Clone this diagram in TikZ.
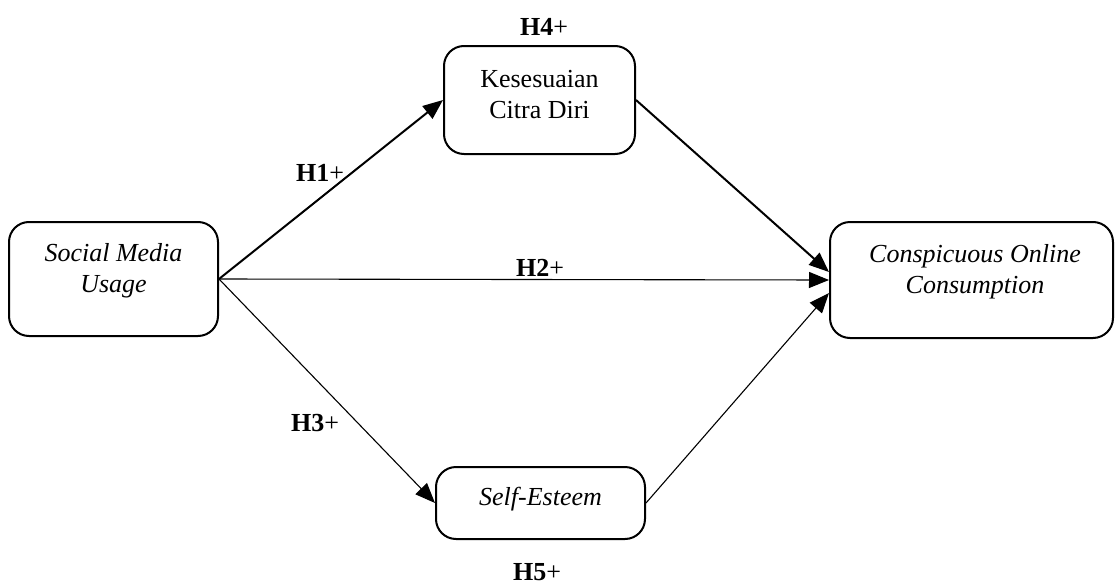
\documentclass[tikz,border=0pt]{standalone}
\usepackage{fontspec}
\setmainfont{Liberation Serif}
\usetikzlibrary{arrows.meta,calc}
\tikzset{
  boxnode/.style={draw, line width=1pt, rounded corners=10pt, inner sep=0pt},
  txt/.style={font=\fontsize{13}{15.5}\selectfont, align=center, inner sep=0pt},
  hlab/.style={font=\fontsize{13}{15.5}\selectfont, inner sep=0pt},
  thickarrow/.style={line width=1pt, -{Triangle[length=10pt,width=8pt]}},
  thinarrow/.style={line width=0.55pt, -{Triangle[length=10pt,width=8pt]}}
}
\begin{document}
\begin{tikzpicture}[x=0.5pt,y=-0.5pt]
\useasboundingbox (0,0) rectangle (1116,584);
% boxes
\node[boxnode, minimum width=104.5pt, minimum height=57pt] (smu) at (113.5,279) {};
\node[boxnode, minimum width=95.5pt, minimum height=54pt] (kcd) at (539.5,100) {};
\node[boxnode, minimum width=141.5pt, minimum height=58pt] (coc) at (971.5,280) {};
\node[boxnode, minimum width=104.5pt, minimum height=36pt] (se) at (540.5,503) {};
% texts
\node[txt] (smut) at (113.5,271) {\textit{Social Media}\\\textit{Usage}};
\node[txt] (kcdt) at (539.5,95) {Kesesuaian\\Citra Diri};
\node[txt] (coct) at (975,272) {\textit{Conspicuous Online}\\\textit{Consumption}};
\node[txt] (set) at (540.5,499) {\textit{Self-Esteem}};
% labels
\node[hlab] (h4) at (544,27) {\textbf{H4}+};
\node[hlab] (h1) at (320,173) {\textbf{H1}+};
\node[hlab] (h2) at (540,268) {\textbf{H2}+};
\node[hlab] (h3) at (315,423) {\textbf{H3}+};
\node[hlab] (h5) at (537,572) {\textbf{H5}+};
% connectors
\draw[thickarrow] (smu.east) -- (kcd.west);
\draw[thinarrow] (smu.east) -- (coc.west);
\draw[thinarrow] (smu.east) -- (se.west);
\draw[thickarrow] (kcd.east) -- ($(coc.west)+(0,-8)$);
\draw[thinarrow] (se.east) -- ($(coc.west)+(0,13)$);
\end{tikzpicture}
\end{document}
